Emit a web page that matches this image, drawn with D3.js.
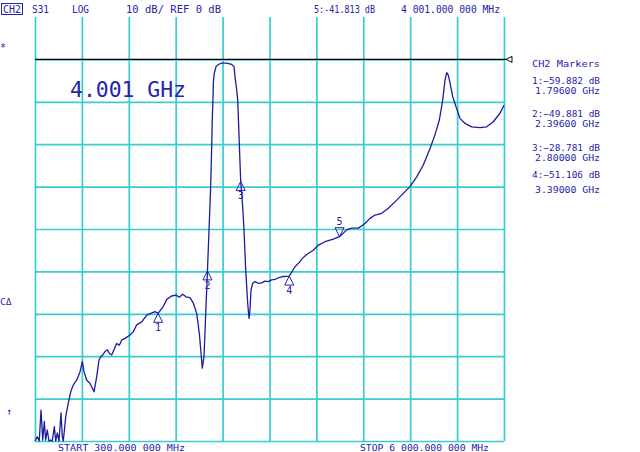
<!DOCTYPE html>
<html><head><meta charset="utf-8">
<script src="https://cdn.jsdelivr.net/npm/d3@7/dist/d3.min.js"></script>
<style>
html,body{margin:0;padding:0;background:#fff;overflow:hidden;}
text{font-family:"DejaVu Sans Mono",monospace;fill:#2424ac;}
</style></head>
<body>
<svg id="c" width="640" height="452"></svg>
<script>
// ---- data ----
const freqMHz = [300,328,352,373,394,413,430,449,470,491,510,535,552,571,592,616,632,644,673,705,734,765,807,847,875,896,928,968,1017,1050,1078,1102,1123,1151,1179,1203,1232,1260,1293,1325,1354,1394,1455,1495,1536,1597,1658,1758,1796,1859,1901,1961,2014,2054,2095,2135,2184,2224,2265,2297,2318,2333,2354,2375,2396,2435,2448,2455,2463,2467,2479,2500,2528,2569,2630,2691,2719,2731,2751,2764,2783,2800,2824,2840,2861,2885,2901,2913,2925,2946,2974,3014,3055,3095,3135,3177,3217,3257,3318,3390,3460,3521,3541,3602,3682,3743,3825,3925,4001,4088,4149,4229,4311,4371,4432,4514,4594,4675,4776,4858,4939,5019,5101,5161,5214,5255,5283,5304,5323,5344,5377,5417,5465,5526,5607,5708,5790,5870,5951,6000];
const s31dB = [-90,-89.0,-90,-82.7,-89.8,-85.4,-89.8,-87.4,-90,-89.8,-90,-86.6,-90,-88.1,-90,-83.4,-89.0,-90,-84.3,-81.0,-78.4,-76.8,-75.6,-73.7,-71.3,-73.7,-75.6,-76.4,-78.4,-74.8,-70.9,-70.1,-69.7,-68.9,-68.5,-69.3,-69.7,-68.5,-67.0,-67.4,-66.2,-65.8,-65.0,-64.2,-62.6,-61.9,-60.3,-59.5,-59.882,-58.3,-56.6,-55.8,-55.6,-56.1,-55.4,-56.0,-56.2,-57.5,-59.9,-64.6,-69.3,-72.8,-70.1,-59.9,-49.881,-30.0,-20.2,-13.5,-9.6,-5.6,-3.3,-1.7,-1.2,-0.9,-0.9,-1.2,-1.7,-4.1,-7.2,-9.6,-19.8,-28.781,-34.7,-40.2,-49.7,-57.5,-61.1,-59.1,-54.4,-52.8,-52.4,-52.8,-52.7,-52.3,-52.4,-52.0,-51.9,-51.5,-51.2,-51.106,-48.9,-47.7,-47.1,-46.0,-45.0,-43.8,-43.0,-42.4,-41.813,-40.2,-39.8,-39.8,-38.7,-37.5,-36.7,-36.3,-35.1,-33.6,-31.6,-30.0,-27.7,-24.9,-21.0,-17.8,-14.3,-9.6,-4.9,-3.1,-3.7,-5.6,-8.8,-11.2,-13.9,-15.1,-15.9,-16.1,-15.9,-14.7,-12.7,-10.8];
const markerIds = [1,2,3,4,5];
const markerFreqMHz = [1796,2396,2800,3390,4001];
const markerDb = [-59.882,-49.881,-28.781,-51.106,-41.813];
const activeMarker = 5;
const startMHz = 300, stopMHz = 6000;
const refDb = 0, dbPerDiv = 10, topDb = 10, bottomDb = -90;
const headerTexts = ["CH2","S31","LOG","10 dB/ REF 0 dB","5:-41.813 dB","4 001.000 000 MHz"];
const footerTexts = ["START 300.000 000 MHz","STOP 6 000.000 000 MHz"];
const bigLabel = "4.001 GHz";
const panelTitle = "CH2 Markers";

// ---- layout ----
const svg = d3.select("#c");
const L = 35, R = 504, T = 17, B = 441;
const x = d3.scaleLinear().domain([startMHz, stopMHz]).range([L, R]);
const y = d3.scaleLinear().domain([topDb, bottomDb]).range([T, B]);
const grid = "#38cdd3";

const xTicks = d3.range(0, 11).map(i => startMHz + i*(stopMHz-startMHz)/10);
const yTicks = d3.range(refDb, bottomDb - 1, -dbPerDiv);

const xAxis = d3.axisBottom(x).tickValues(xTicks).tickSize(-(B - T)).tickFormat("");
const gx = svg.append("g").attr("transform", `translate(0,${B})`).call(xAxis);
gx.select(".domain").remove();
gx.selectAll(".tick line").attr("stroke", grid).attr("stroke-width", 1.7);

const yAxis = d3.axisLeft(y).tickValues(yTicks).tickSize(-(R - L)).tickFormat("");
const gy = svg.append("g").attr("transform", `translate(${L},0)`).call(yAxis);
gy.select(".domain").remove();
gy.selectAll(".tick line").attr("stroke", grid).attr("stroke-width", 1.7);

// reference line
svg.append("line").attr("x1", L).attr("x2", R+2).attr("y1", y(refDb)).attr("y2", y(refDb))
  .attr("stroke", "#000").attr("stroke-width", 1.3);
const ry = y(refDb);
svg.append("path").attr("d", `M${R+2},${ry} L${R+8},${ry-3} L${R+8},${ry+3} Z`)
  .attr("fill", "none").attr("stroke", "#000").attr("stroke-width", 1);

// trace
const pts = freqMHz.map((f, i) => [f, s31dB[i]]);
const line = d3.line().x(d => x(d[0])).y(d => y(Math.max(bottomDb, d[1])));
svg.append("path").datum(pts).attr("d", line).attr("fill", "none")
  .attr("stroke", "#1c1ca0").attr("stroke-width", 1.3).attr("stroke-linejoin", "round");

// markers
const mk = markerIds.map((id, i) => ({id, f: markerFreqMHz[i], db: markerDb[i]}));
mk.forEach(m => {
  const px = x(m.f), py = y(m.db);
  const g = svg.append("g");
  if (m.id === activeMarker) {
    g.append("path").attr("d", `M${px},${py} L${px-4.5},${py-9} L${px+4.5},${py-9} Z`)
      .attr("fill", "none").attr("stroke", "#2424ac").attr("stroke-width", 1);
    g.append("text").attr("x", px).attr("y", py - 12).attr("text-anchor", "middle")
      .attr("font-size", 10).text(m.id);
  } else {
    g.append("path").attr("d", `M${px},${py} L${px-4.5},${py+9} L${px+4.5},${py+9} Z`)
      .attr("fill", "none").attr("stroke", "#2424ac").attr("stroke-width", 1);
    g.append("text").attr("x", px).attr("y", py + 18).attr("text-anchor", "middle")
      .attr("font-size", 10).text(m.id);
  }
});

// header
const hdrX = [3, 32, 72, 126, 314, 401];
const hdrW = [18, 17, 17, 95, 61, 99];
headerTexts.forEach((t, i) => {
  svg.append("text").attr("x", hdrX[i]).attr("y", 13).attr("font-size", 10.5)
    .attr("textLength", hdrW[i]).attr("lengthAdjust", "spacingAndGlyphs").text(t);
});
svg.append("rect").attr("x", 1.5).attr("y", 3.5).attr("width", 21).attr("height", 11)
  .attr("fill", "none").attr("stroke", "#2424ac").attr("stroke-width", 1);

// footer
const ftX = [58, 360], ftW = [127, 129];
footerTexts.forEach((t, i) => {
  svg.append("text").attr("x", ftX[i]).attr("y", 451).attr("font-size", 9.5)
    .attr("textLength", ftW[i]).attr("lengthAdjust", "spacingAndGlyphs").text(t);
});

// left side symbols
svg.append("text").attr("x", 0).attr("y", 51).attr("font-size", 10).text("*");
svg.append("text").attr("x", 0).attr("y", 305).attr("font-size", 9.5).text("CΔ");
svg.append("text").attr("x", 6).attr("y", 415).attr("font-size", 10).text("↑");

// big label
svg.append("text").attr("x", 70).attr("y", 97).attr("font-size", 21)
  .attr("font-family", "Roboto, 'Open Sans', sans-serif").attr("font-weight", 300)
  .attr("textLength", 116).attr("lengthAdjust", "spacingAndGlyphs").text(bigLabel);

// marker panel
const fmtDb = d3.format(".3f"), fmtG = d3.format(".5f");
const panelRight = 600;
svg.append("text").attr("x", panelRight).attr("y", 67).attr("text-anchor", "end")
  .attr("font-size", 9.5).attr("textLength", 68).attr("lengthAdjust", "spacingAndGlyphs").text(panelTitle);
const dbY = [84, 116.5, 150.5, 178.3], fY = [94, 126.5, 160.5, 193.3];
mk.filter(m => m.id !== activeMarker).forEach((m, i) => {
  svg.append("text").attr("x", panelRight).attr("y", dbY[i]).attr("text-anchor", "end")
    .attr("font-size", 8.8).attr("textLength", 68).attr("lengthAdjust", "spacingAndGlyphs")
    .text(`${m.id}:${fmtDb(m.db)} dB`);
  svg.append("text").attr("x", panelRight).attr("y", fY[i]).attr("text-anchor", "end")
    .attr("font-size", 8.8).attr("textLength", 65).attr("lengthAdjust", "spacingAndGlyphs")
    .text(`${fmtG(m.f/1000)} GHz`);
});
</script>
</body></html>
